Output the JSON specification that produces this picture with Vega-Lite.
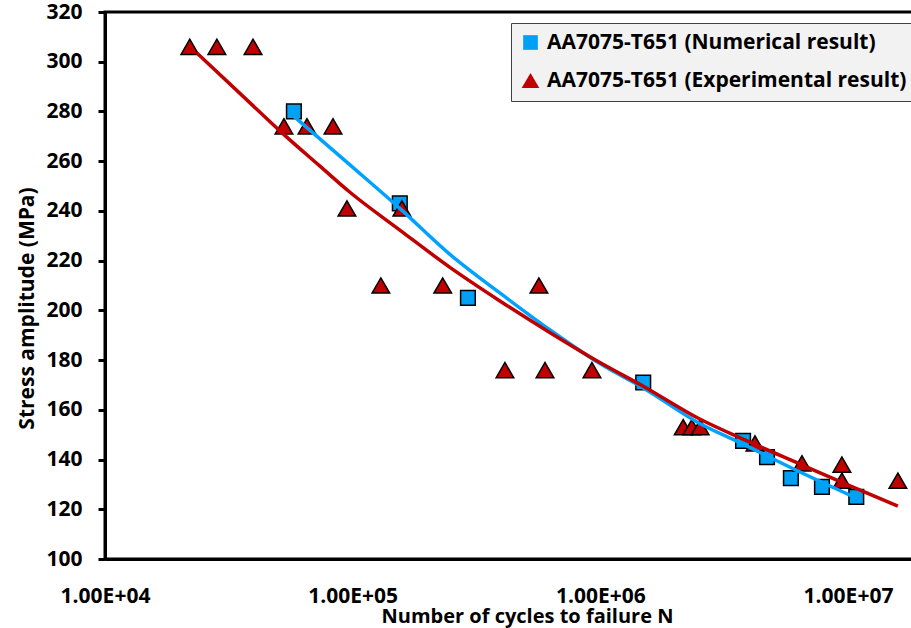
{
  "$schema": "https://vega.github.io/schema/vega-lite/v6.json",
  "width": 808,
  "height": 547,
  "autosize": {"type": "none"},
  "padding": {"left": 105, "top": 12, "right": 0, "bottom": 69},
  "background": "white",
  "config": {
    "view": {"stroke": "black", "strokeWidth": 3},
    "font": "Open Sans",
    "axis": {
      "labelFont": "Open Sans", "labelFontWeight": "bold", "labelFontSize": 21, "labelColor": "black",
      "titleFont": "Open Sans", "titleFontWeight": "bold", "titleFontSize": 20, "titleColor": "black",
      "domainColor": "black", "domainWidth": 3, "tickColor": "black", "tickWidth": 3, "grid": false
    }
  },
  "datasets": {
    "points": [
      {"N": 57900, "S": 280, "series": "AA7075-T651 (Numerical result)"},
      {"N": 155000, "S": 243, "series": "AA7075-T651 (Numerical result)"},
      {"N": 292000, "S": 205, "series": "AA7075-T651 (Numerical result)"},
      {"N": 1490000, "S": 171, "series": "AA7075-T651 (Numerical result)"},
      {"N": 3770000, "S": 147.5, "series": "AA7075-T651 (Numerical result)"},
      {"N": 4710000, "S": 141, "series": "AA7075-T651 (Numerical result)"},
      {"N": 5880000, "S": 132.5, "series": "AA7075-T651 (Numerical result)"},
      {"N": 7850000, "S": 129, "series": "AA7075-T651 (Numerical result)"},
      {"N": 10800000, "S": 125, "series": "AA7075-T651 (Numerical result)"},
      {"N": 22000, "S": 306, "series": "AA7075-T651 (Experimental result)"},
      {"N": 28300, "S": 306, "series": "AA7075-T651 (Experimental result)"},
      {"N": 39600, "S": 306, "series": "AA7075-T651 (Experimental result)"},
      {"N": 52800, "S": 274, "series": "AA7075-T651 (Experimental result)"},
      {"N": 65400, "S": 274, "series": "AA7075-T651 (Experimental result)"},
      {"N": 83300, "S": 274, "series": "AA7075-T651 (Experimental result)"},
      {"N": 94800, "S": 241, "series": "AA7075-T651 (Experimental result)"},
      {"N": 158000, "S": 241, "series": "AA7075-T651 (Experimental result)"},
      {"N": 130000, "S": 210, "series": "AA7075-T651 (Experimental result)"},
      {"N": 231000, "S": 210, "series": "AA7075-T651 (Experimental result)"},
      {"N": 565000, "S": 210, "series": "AA7075-T651 (Experimental result)"},
      {"N": 412000, "S": 176, "series": "AA7075-T651 (Experimental result)"},
      {"N": 598000, "S": 176, "series": "AA7075-T651 (Experimental result)"},
      {"N": 925000, "S": 176, "series": "AA7075-T651 (Experimental result)"},
      {"N": 2160000, "S": 153, "series": "AA7075-T651 (Experimental result)"},
      {"N": 2340000, "S": 153, "series": "AA7075-T651 (Experimental result)"},
      {"N": 2530000, "S": 153, "series": "AA7075-T651 (Experimental result)"},
      {"N": 4210000, "S": 146.5, "series": "AA7075-T651 (Experimental result)"},
      {"N": 6520000, "S": 138.5, "series": "AA7075-T651 (Experimental result)"},
      {"N": 9450000, "S": 138, "series": "AA7075-T651 (Experimental result)"},
      {"N": 9450000, "S": 131.5, "series": "AA7075-T651 (Experimental result)"},
      {"N": 15900000, "S": 131.5, "series": "AA7075-T651 (Experimental result)"}
    ],
    "numfit": [
      {"N": 57900, "S": 278},
      {"N": 97500, "S": 258.5},
      {"N": 155000, "S": 241},
      {"N": 247000, "S": 222.5},
      {"N": 393000, "S": 207.0},
      {"N": 627000, "S": 192.1},
      {"N": 996000, "S": 178.6},
      {"N": 1490000, "S": 168.8},
      {"N": 2520000, "S": 154.5},
      {"N": 3770000, "S": 146.2},
      {"N": 6400000, "S": 135.0},
      {"N": 10600000, "S": 124.9}
    ],
    "expfit": [
      {"N": 23500, "S": 303.5},
      {"N": 41500, "S": 280.4},
      {"N": 52400, "S": 271},
      {"N": 73800, "S": 258},
      {"N": 97500, "S": 247.5},
      {"N": 155000, "S": 232.3},
      {"N": 247000, "S": 217.3},
      {"N": 393000, "S": 203.8},
      {"N": 627000, "S": 191},
      {"N": 996000, "S": 179},
      {"N": 1490000, "S": 169.5},
      {"N": 2520000, "S": 156.3},
      {"N": 4020000, "S": 147},
      {"N": 6400000, "S": 138.2},
      {"N": 10200000, "S": 129.4},
      {"N": 15900000, "S": 121.3}
    ]
  },
  "encoding": {
    "x": {
      "field": "N", "type": "quantitative",
      "scale": {"type": "log", "domain": [10000, 18300000], "nice": false},
      "axis": {
        "values": [10000, 100000, 1000000, 10000000],
        "labelExpr": "'1.00E+0' + round(log(datum.value) / LN10)",
        "ticks": false, "labelPadding": 26, "labelFlush": false, "labelOverlap": false,
        "title": "Number of cycles to failure N",
        "titleX": 422, "titleY": 63, "titleBaseline": "alphabetic"
      }
    },
    "y": {
      "field": "S", "type": "quantitative",
      "scale": {"domain": [100, 320], "nice": false, "zero": false},
      "axis": {
        "values": [100, 120, 140, 160, 180, 200, 220, 240, 260, 280, 300, 320],
        "tickSize": 7, "labelPadding": 16,
        "title": "Stress amplitude (MPa)", "titleFontSize": 21,
        "titleX": -72, "titleY": 296, "titleBaseline": "alphabetic"
      }
    }
  },
  "layer": [
    {
      "data": {"name": "points"},
      "mark": {"type": "point", "filled": true, "opacity": 1, "stroke": "black", "strokeWidth": 1.5},
      "encoding": {
        "color": {
          "field": "series", "type": "nominal",
          "scale": {"domain": ["AA7075-T651 (Numerical result)", "AA7075-T651 (Experimental result)"], "range": ["#00a0f5", "#c00000"]},
          "legend": {
            "orient": "none", "legendX": 406, "legendY": 11, "title": null,
            "fillColor": "#f2f2f2", "strokeColor": "#404040", "padding": 9,
            "labelFont": "Open Sans", "labelFontSize": 21, "labelFontWeight": "bold", "labelColor": "black",
            "symbolSize": 225, "labelOffset": 6, "rowPadding": 16,
            "symbolStrokeColor": "black", "symbolStrokeWidth": 1.5, "symbolOpacity": 1, "labelLimit": 500
          }
        },
        "shape": {
          "field": "series", "type": "nominal",
          "scale": {"domain": ["AA7075-T651 (Numerical result)", "AA7075-T651 (Experimental result)"], "range": ["square", "triangle-up"]},
          "legend": {
            "orient": "none", "legendX": 406, "legendY": 11, "title": null,
            "fillColor": "#f2f2f2", "strokeColor": "#404040", "padding": 9,
            "labelFont": "Open Sans", "labelFontSize": 21, "labelFontWeight": "bold", "labelColor": "black",
            "symbolSize": 225, "labelOffset": 6, "rowPadding": 16,
            "symbolStrokeColor": "black", "symbolStrokeWidth": 1.5, "symbolOpacity": 1, "labelLimit": 500
          }
        },
        "size": {
          "field": "series", "type": "nominal",
          "scale": {"domain": ["AA7075-T651 (Numerical result)", "AA7075-T651 (Experimental result)"], "range": [215, 310]},
          "legend": null
        }
      }
    },
    {
      "data": {"name": "numfit"},
      "mark": {"type": "line", "color": "#00a2ff", "strokeWidth": 3.5, "interpolate": "monotone"},
      "encoding": {}
    },
    {
      "data": {"name": "expfit"},
      "mark": {"type": "line", "color": "#c00000", "strokeWidth": 3.5, "interpolate": "monotone"},
      "encoding": {}
    }
  ]
}
